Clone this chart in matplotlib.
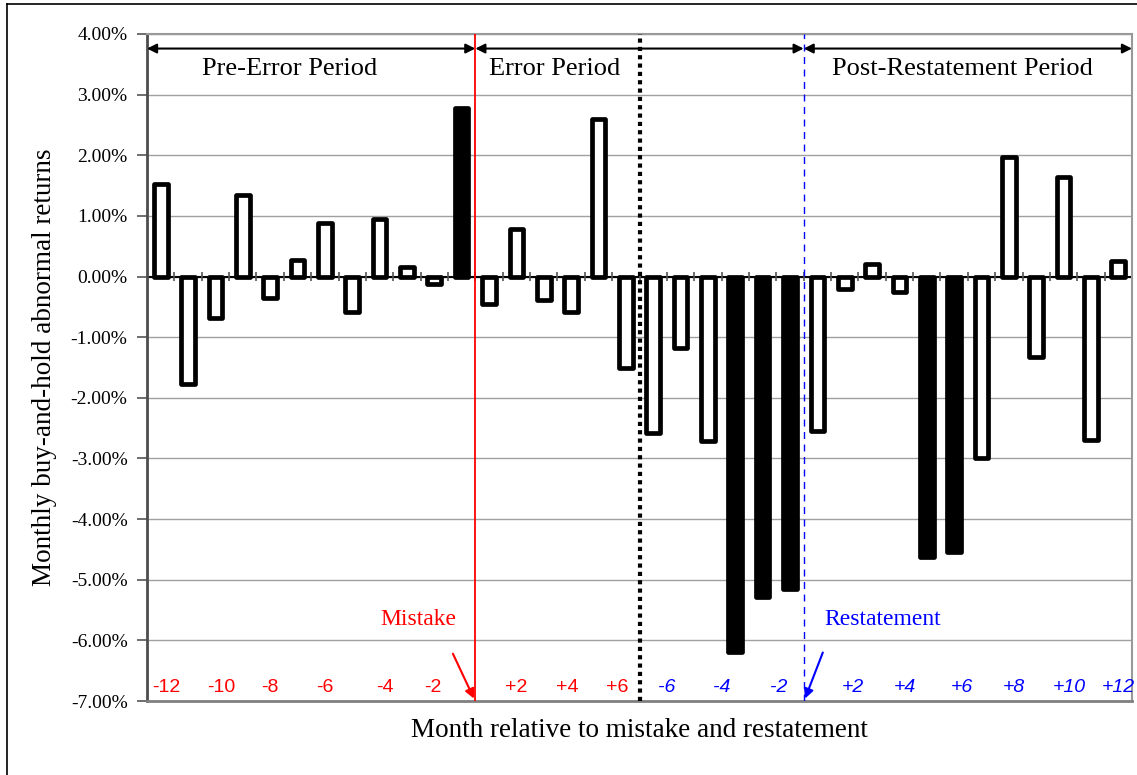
import numpy as np
import matplotlib.pyplot as plt
from matplotlib.lines import Line2D

# monthly buy-and-hold abnormal returns (%), in chart order
pre_error = [1.52, -1.78, -0.69, 1.35, -0.36, 0.27, 0.89, -0.59, 0.95, 0.15, -0.13, 2.78]
error_period = [-0.45, 0.79, -0.39, -0.58, 2.60, -1.51]
pre_restate = [-2.58, -1.18, -2.72, -6.19, -5.28, -5.15]
post_restate = [-2.55, -0.20, 0.21, -0.26, -4.62, -4.54, -3.00, 1.97, -1.33, 1.64, -2.70, 0.25]

# significant months drawn as solid bars
filled = [0]*11 + [1] + [0]*6 + [0, 0, 0, 1, 1, 1] + [0, 0, 0, 0, 1, 1, 0, 0, 0, 0, 0, 0]

red_labels = ['-12', '-10', '-8', '-6', '-4', '-2', '+2', '+4', '+6']
red_idx = [0.2, 2.2, 4.0, 6.0, 8.2, 9.95, 13.0, 14.85, 16.7]
blue_labels = ['-6', '-4', '-2', '+2', '+4', '+6', '+8', '+10', '+12']
blue_idx = [18.5, 20.5, 22.6, 25.3, 27.2, 29.3, 31.2, 33.2, 35.0]

values = np.array(pre_error + error_period + pre_restate + post_restate)
x = np.arange(len(values))

serif = 'Liberation Serif'
sans = 'Liberation Sans'

fig = plt.figure(figsize=(11.37, 7.75), dpi=100)
ax = fig.add_axes([147/1137, 1 - 701/775, (1132 - 147)/1137, (701 - 34)/775])

# gridlines
ax.set_ylim(-7, 4)
ax.set_xlim(-0.5, len(values) - 0.5)
ax.set_yticks(np.arange(-7, 5, 1))
ax.yaxis.grid(True, color='#a0a0a0', lw=1)
ax.set_axisbelow(True)

faces = ['black' if f else 'white' for f in filled]
ax.bar(x, values, width=0.5, color=faces, edgecolor='black', linewidth=3.4,
       joinstyle='round', zorder=3)

# zero line with category ticks crossing it
ax.axhline(0, color='black', lw=1.5, zorder=2)
ax.vlines(np.arange(len(values) + 1) - 0.5, -0.08, 0.08, color='#555555', lw=1.2, zorder=2)

# event lines
ax.axvline(11.5, color='red', lw=1.3, zorder=4)
ax.axvline(17.5, color='black', lw=3, ls=(0, (1, 1)), zorder=4)
ax.axvline(23.5, color='blue', lw=1, ls=(0, (5, 4)), zorder=4)

# period arrows
for a, b in [(-0.5, 11.5), (11.5, 23.5), (23.5, 35.5)]:
    ax.annotate('', xy=(b, 3.76), xytext=(a, 3.76),
                arrowprops=dict(arrowstyle='<|-|>', color='black', lw=1.5,
                                shrinkA=0, shrinkB=0, mutation_scale=14))
ax.text(4.7, 3.43, 'Pre-Error Period', ha='center', va='center', fontsize=19, family=serif)
ax.text(14.4, 3.43, 'Error Period', ha='center', va='center', fontsize=19, family=serif)
ax.text(29.3, 3.43, 'Post-Restatement Period', ha='center', va='center', fontsize=19, family=serif)

ax.text(9.4, -5.66, 'Mistake', ha='center', va='center', fontsize=17, family=serif, color='red')
ax.annotate('', xy=(11.45, -6.96), xytext=(10.68, -6.22),
            arrowprops=dict(arrowstyle='-|>', color='red', lw=1.5, shrinkA=0, shrinkB=0,
                            mutation_scale=14))
ax.text(26.4, -5.66, 'Restatement', ha='center', va='center', fontsize=17, family=serif, color='blue')
ax.annotate('', xy=(23.55, -6.96), xytext=(24.2, -6.2),
            arrowprops=dict(arrowstyle='-|>', color='blue', lw=1.5, shrinkA=0, shrinkB=0,
                            mutation_scale=14))

for lab, i in zip(red_labels, red_idx):
    ax.text(i, -6.78, lab, ha='center', va='center', fontsize=14, family=sans, color='red')
for lab, i in zip(blue_labels, blue_idx):
    ax.text(i, -6.78, lab, ha='center', va='center', fontsize=14, family=sans, color='blue',
            style='italic')

# axes styling
ax.set_xticks([])
ax.set_yticklabels([f'{v:.2f}%' for v in np.arange(-7, 5, 1)], family=serif, fontsize=14)
ax.tick_params(axis='y', length=7, width=1.2, color='#555555', pad=7)
ax.spines['left'].set_color('#4d4d4d')
ax.spines['left'].set_linewidth(2)
ax.spines['bottom'].set_color('#808080')
ax.spines['bottom'].set_linewidth(2)
for s in ['top', 'right']:
    ax.spines[s].set_color('#999999')
    ax.spines[s].set_linewidth(1.5)

ax.set_ylabel('Monthly buy-and-hold abnormal returns', family=serif, fontsize=19.5, labelpad=10)
ax.set_xlabel('Month relative to mistake and restatement', family=serif, fontsize=19.5, labelpad=12)

# outer frame of the original chart object
fig.add_artist(Line2D([7/1137, 7/1137], [0, 1 - 4/775], color='black', lw=1.2))
fig.add_artist(Line2D([7/1137, 1], [1 - 4/775, 1 - 4/775], color='black', lw=1.2))

fig.savefig('out.png', dpi=100)
